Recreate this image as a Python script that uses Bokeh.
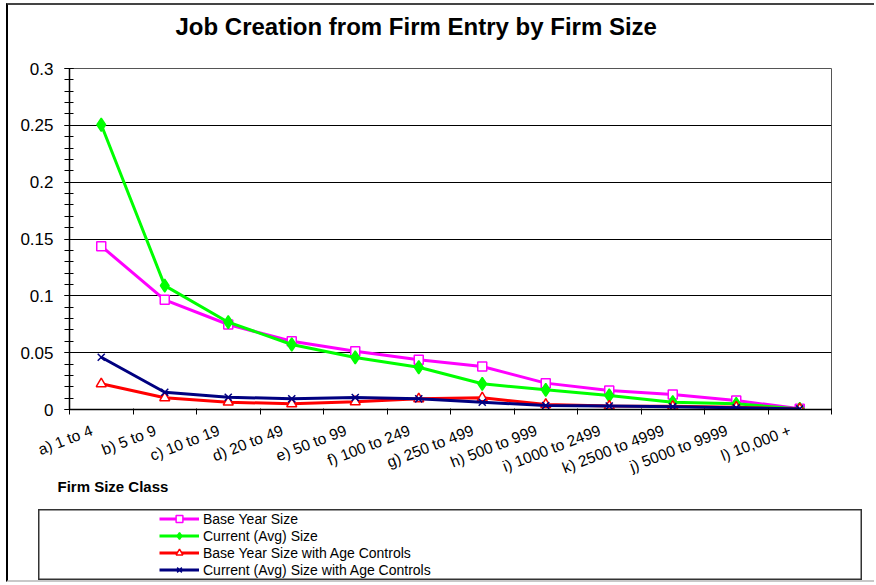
from bokeh.plotting import figure
from bokeh.models import Range1d, FixedTicker, Legend, LegendItem, Title
from bokeh.layouts import column
from bokeh.embed import file_html
from bokeh.resources import INLINE

# ---- data ----
categories = ["a) 1 to 4", "b) 5 to 9", "c) 10 to 19", "d) 20 to 49", "e) 50 to 99",
              "f) 100 to 249", "g) 250 to 499", "h) 500 to 999", "i) 1000 to 2499",
              "k) 2500 to 4999", "j) 5000 to 9999", "l) 10,000 +"]
base_year = [0.1437, 0.0965, 0.0748, 0.0600, 0.0513, 0.0437, 0.0378, 0.0232, 0.0167, 0.0132, 0.0079, 0.0006]
current_avg = [0.2505, 0.1090, 0.0768, 0.0572, 0.0458, 0.0372, 0.0226, 0.0173, 0.0123, 0.0064, 0.0050, 0.0005]
base_age = [0.0226, 0.0103, 0.0064, 0.0050, 0.0068, 0.0094, 0.0103, 0.0044, 0.0030, 0.0028, 0.0020, 0.0005]
current_age = [0.0460, 0.0152, 0.0108, 0.0094, 0.0106, 0.0094, 0.0064, 0.0035, 0.0030, 0.0025, 0.0015, 0.0005]
series_names = ["Base Year Size", "Current (Avg) Size",
                "Base Year Size with Age Controls", "Current (Avg) Size with Age Controls"]
y_ticks = [0, 0.05, 0.1, 0.15, 0.2, 0.25, 0.3]
y_tick_labels = ["0", "0.05", "0.1", "0.15", "0.2", "0.25", "0.3"]
title_text = "Job Creation from Firm Entry by Firm Size"
x_title = "Firm Size Class"

FONT = "Liberation Sans"
n = len(categories)
xc = [i + 0.5 for i in range(n)]
label_pos = [c - 0.15 for c in xc]   # rotated labels end slightly left of the category centre

# ---- header (title) ----
t = figure(width=866, height=53, x_range=Range1d(0, 1), y_range=Range1d(0, 1),
           output_backend="svg", toolbar_location=None, min_border=0,
           x_axis_location=None, y_axis_location=None)
t.frame_align = False
t.grid.visible = False
t.outline_line_color = None
t.title = Title(text=title_text, align="left", offset=167, standoff=10,
                text_font=FONT, text_font_size="24px", text_font_style="bold",
                text_color="black")

# ---- main chart ----
p = figure(width=866, height=451, x_range=Range1d(0, n), y_range=Range1d(0, 0.3),
           output_backend="svg", toolbar_location=None,
           min_border_left=61, min_border_right=43, min_border_top=10, min_border_bottom=100)
p.frame_align = False
p.background_fill_color = "white"
p.outline_line_color = "#555555"
p.outline_line_width = 1

p.xaxis.ticker = FixedTicker(ticks=label_pos, minor_ticks=list(range(n + 1)))
p.xaxis.major_label_overrides = {float(v): c for v, c in zip(label_pos, categories)}
p.xaxis.major_tick_line_color = None
p.xaxis.major_tick_out = 0
p.xaxis.major_tick_in = 0
p.xaxis.minor_tick_line_color = "black"
p.xaxis.minor_tick_out = 5
p.xaxis.minor_tick_in = 1
p.xaxis.major_label_orientation = 0.37
p.xaxis.major_label_standoff = 15
p.xaxis.major_label_text_font = FONT
p.xaxis.major_label_text_font_size = "15.5px"
p.xaxis.major_label_text_color = "black"
p.xaxis.axis_line_color = "black"
p.xaxis.axis_line_width = 1.5

minor_y = [round(i * 0.01, 2) for i in range(31)]
p.yaxis.ticker = FixedTicker(ticks=y_ticks, minor_ticks=minor_y)
p.yaxis.major_label_overrides = {float(v): s for v, s in zip(y_ticks, y_tick_labels)}
p.yaxis.major_tick_in = 4
p.yaxis.major_tick_out = 5
p.yaxis.minor_tick_in = 4
p.yaxis.minor_tick_out = 5
p.yaxis.minor_tick_line_color = "black"
p.yaxis.major_tick_line_color = "black"
p.yaxis.major_label_standoff = 11
p.yaxis.major_label_text_font = FONT
p.yaxis.major_label_text_font_size = "17px"
p.yaxis.major_label_text_color = "black"
p.yaxis.axis_line_color = "black"
p.yaxis.axis_line_width = 1.5

p.xgrid.visible = False
p.ygrid.ticker = FixedTicker(ticks=y_ticks)
p.ygrid.grid_line_color = "black"
p.ygrid.grid_line_width = 1

styles = [
    dict(color="#FF00FF", marker="square", size=9, fill="white"),
    dict(color="#00FF00", marker="diamond", size=13, fill="#00FF00"),
    dict(color="#FF0000", marker="triangle", size=10, fill="white"),
    dict(color="#000080", marker="x", size=10, fill=None),
]
data = [base_year, current_avg, base_age, current_age]
for vals, st in zip(data, styles):
    p.line(xc, vals, line_color=st["color"], line_width=3)
    p.scatter(xc, vals, marker=st["marker"], size=st["size"], line_color=st["color"],
              fill_color=st["fill"], line_width=1.5)

p.add_layout(Title(text=x_title, align="left", offset=-12, standoff=-20, vertical_align="top",
                   text_font=FONT, text_font_size="15px", text_font_style="bold",
                   text_color="black"), "below")

# ---- legend box (its renderers draw the series out of view; only the legend shows) ----
p2 = figure(width=824, height=71, x_range=Range1d(-3, -2), y_range=Range1d(-3, -2),
            output_backend="svg", toolbar_location=None, min_border=0,
            x_axis_location=None, y_axis_location=None, margin=(0, 0, 0, 30))
p2.frame_align = False
p2.grid.visible = False
p2.outline_line_color = "#333333"
p2.outline_line_width = 2
items = []
for name, vals, st in zip(series_names, data, styles):
    r1 = p2.line(xc, vals, line_color=st["color"], line_width=3)
    r2 = p2.scatter(xc, vals, marker=st["marker"], size=st["size"], line_color=st["color"],
                    fill_color=st["fill"], line_width=1.5)
    items.append(LegendItem(label=name, renderers=[r1, r2]))
leg = Legend(items=items, location=(121, 2), padding=1, margin=0, spacing=0,
             border_line_color=None, background_fill_alpha=0,
             glyph_width=40, glyph_height=17, label_height=17, label_standoff=4,
             label_text_font=FONT, label_text_font_size="14px", label_text_color="black")
p2.add_layout(leg)

layout = column(t, p, p2, spacing=0, margin=(3, 0, 0, 6),
                styles={"border-left": "2px solid black", "border-top": "2px solid #444444",
                        "border-bottom": "2px solid #c8c8c8"})

open("out.html", "w").write(file_html(layout, INLINE))
